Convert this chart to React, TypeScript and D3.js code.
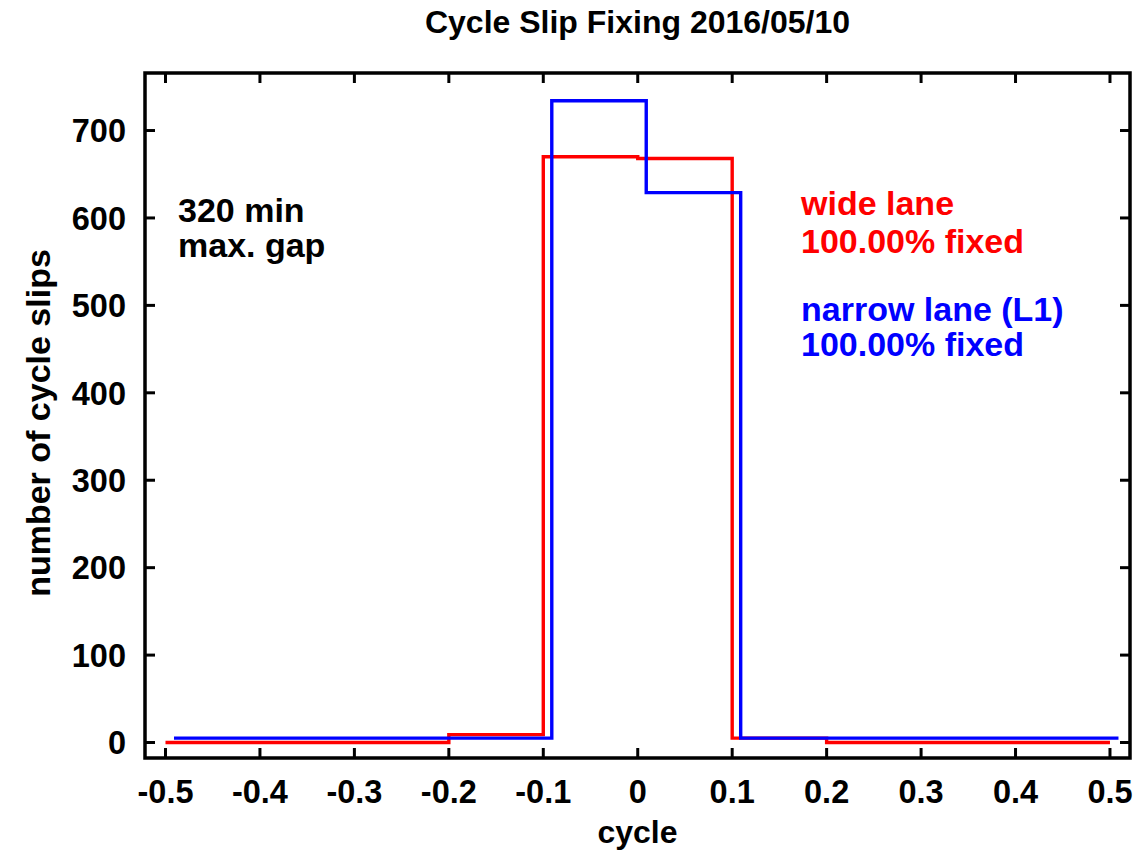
import React from "react";
import * as d3 from "d3";

const titleText = "Cycle Slip Fixing 2016/05/10";
const xLabel = "cycle";
const yLabel = "number of cycle slips";

const xTicks = [-0.5, -0.4, -0.3, -0.2, -0.1, 0, 0.1, 0.2, 0.3, 0.4, 0.5];
const xTickLabels = ["-0.5", "-0.4", "-0.3", "-0.2", "-0.1", "0", "0.1", "0.2", "0.3", "0.4", "0.5"];
const yTicks = [0, 100, 200, 300, 400, 500, 600, 700];

// wide lane histogram (red)
const wideEdges = [-0.5, -0.4, -0.3, -0.2, -0.1, 0, 0.1, 0.2, 0.3, 0.4, 0.5];
const wideCounts = [0, 0, 0, 9, 670, 668, 5, 0, 0, 0];

// narrow lane histogram (blue), bins slightly offset
const narrowEdges = [-0.491, -0.391, -0.291, -0.191, -0.091, 0.009, 0.109, 0.209, 0.309, 0.409, 0.509];
const narrowCounts = [5, 5, 5, 5, 734, 629, 5, 5, 5, 5];

const annotLeft = ["320 min", "max. gap"];
const annotWide = ["wide lane", "100.00% fixed"];
const annotNarrow = ["narrow lane (L1)", "100.00% fixed"];

const W = 1135;
const H = 857;
const M = { left: 145, right: 1130, top: 73, bottom: 758 };
const FONT = "'Liberation Sans', Arial, Helvetica, sans-serif";

export default function App() {
  const x = d3.scaleLinear().domain([-0.5217, 0.5212]).range([M.left, M.right]);
  const y = d3.scaleLinear().domain([-17.7, 765.8]).range([M.bottom, M.top]);

  const stepPath = (edges: number[], counts: number[]) => {
    const pts: [number, number][] = edges.map((e, i) => [e, counts[Math.min(i, counts.length - 1)]]);
    return d3
      .line<[number, number]>()
      .x((d) => x(d[0]))
      .y((d) => y(d[1]))
      .curve(d3.curveStepAfter)(pts) as string;
  };

  const tickLen = 10;
  const fs = 32.5;
  const fsText = 34;

  return (
    <svg
      width={W}
      height={H}
      viewBox={`0 0 ${W} ${H}`}
      style={{ position: "absolute", left: 0, top: 0, background: "#fff" }}
      fontFamily={FONT}
      fontWeight="bold"
    >
      <rect x={0} y={0} width={W} height={H} fill="#fff" />
      <text x={(M.left + M.right) / 2} y={33} textAnchor="middle" fontSize={32} fill="#000">
        {titleText}
      </text>

      {/* ticks */}
      {xTicks.map((t, i) => (
        <g key={"x" + t}>
          <line x1={x(t)} x2={x(t)} y1={M.bottom} y2={M.bottom - tickLen} stroke="#000" strokeWidth={3} />
          <line x1={x(t)} x2={x(t)} y1={M.top} y2={M.top + tickLen} stroke="#000" strokeWidth={3} />
          <text x={x(t)} y={803} textAnchor="middle" fontSize={fs} fill="#000">
            {xTickLabels[i]}
          </text>
        </g>
      ))}
      {yTicks.map((t) => (
        <g key={"y" + t}>
          <line x1={M.left} x2={M.left + tickLen} y1={y(t)} y2={y(t)} stroke="#000" strokeWidth={3} />
          <line x1={M.right} x2={M.right - tickLen} y1={y(t)} y2={y(t)} stroke="#000" strokeWidth={3} />
          <text x={126} y={y(t)} dy="0.36em" textAnchor="end" fontSize={fs} fill="#000">
            {t}
          </text>
        </g>
      ))}

      {/* data */}
      <path d={stepPath(wideEdges, wideCounts)} fill="none" stroke="#ff0000" strokeWidth={3.4} />
      <path d={stepPath(narrowEdges, narrowCounts)} fill="none" stroke="#0000ff" strokeWidth={3.4} />

      {/* frame */}
      <rect
        x={M.left}
        y={M.top}
        width={M.right - M.left}
        height={M.bottom - M.top}
        fill="none"
        stroke="#000"
        strokeWidth={3.5}
      />

      {/* axis labels */}
      <text x={(M.left + M.right) / 2} y={843} textAnchor="middle" fontSize={32} fill="#000">
        {xLabel}
      </text>
      <text
        transform={`translate(50,423) rotate(-90)`}
        textAnchor="middle"
        fontSize={fsText}
        fill="#000"
      >
        {yLabel}
      </text>

      {/* annotations */}
      {annotLeft.map((s, i) => (
        <text key={"al" + i} x={178} y={222 + i * 35} fontSize={fsText} fill="#000">
          {s}
        </text>
      ))}
      {annotWide.map((s, i) => (
        <text key={"aw" + i} x={801} y={215 + i * 38} fontSize={fsText} fill="#ff0000">
          {s}
        </text>
      ))}
      {annotNarrow.map((s, i) => (
        <text key={"an" + i} x={801} y={321 + i * 35} fontSize={fsText} fill="#0000ff">
          {s}
        </text>
      ))}
    </svg>
  );
}
